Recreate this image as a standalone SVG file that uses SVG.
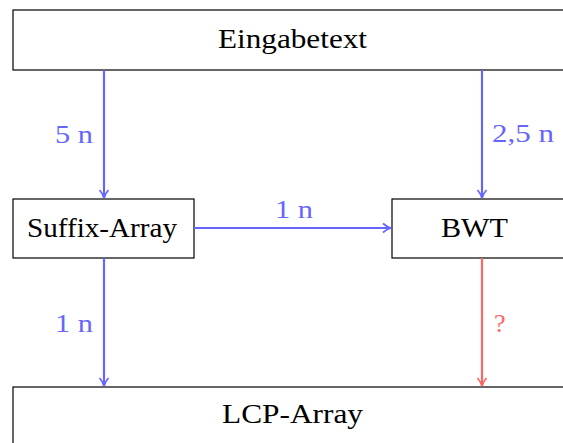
<svg xmlns="http://www.w3.org/2000/svg" width="563" height="443" viewBox="0 0 563 443">
<style>
.box{fill:#fff;stroke:#000;stroke-width:1.2}
.t{font-family:"Liberation Serif","DejaVu Serif",serif;font-size:28px;fill:#000}
.lb{font-family:"Liberation Serif","DejaVu Serif",serif;font-size:26px;fill:#6666ff}
.lr{font-family:"Liberation Serif","DejaVu Serif",serif;font-size:26px;fill:#ff6666}
.cb{stroke:#6666ff;stroke-width:2.2;fill:none}
.cr{stroke:#ff6666;stroke-width:2.2;fill:none}
</style>
<defs>
<marker id="ab" viewBox="0 0 12 12" refX="11" refY="6" markerWidth="12" markerHeight="12" markerUnits="userSpaceOnUse" orient="auto">
<path d="M3,1.5 Q7,5 11,6 Q7,7 3,10.5" fill="none" stroke="#6666ff" stroke-width="1.7"/>
</marker>
<marker id="ar" viewBox="0 0 12 12" refX="11" refY="6" markerWidth="12" markerHeight="12" markerUnits="userSpaceOnUse" orient="auto">
<path d="M3,1.5 Q7,5 11,6 Q7,7 3,10.5" fill="none" stroke="#ff6666" stroke-width="1.7"/>
</marker>
</defs>
<g id="eingabetext">
<rect class="box" x="13" y="10" width="580" height="60"/>
<text class="t" x="218" y="48" textLength="149" lengthAdjust="spacingAndGlyphs">Eingabetext</text>
</g>
<g id="suffix-array">
<rect class="box" x="13" y="199" width="181" height="59"/>
<text class="t" x="27" y="237" textLength="150" lengthAdjust="spacingAndGlyphs">Suffix-Array</text>
</g>
<g id="bwt">
<rect class="box" x="392" y="199" width="200" height="59"/>
<text class="t" x="441" y="237" textLength="67" lengthAdjust="spacingAndGlyphs">BWT</text>
</g>
<g id="lcp-array">
<rect class="box" x="13" y="387" width="580" height="70"/>
<text class="t" x="222" y="423" textLength="141" lengthAdjust="spacingAndGlyphs">LCP-Array</text>
</g>
<g id="connectors">
<line class="cb" x1="104" y1="70" x2="104" y2="198" marker-end="url(#ab)"/>
<line class="cb" x1="482" y1="70" x2="482" y2="198" marker-end="url(#ab)"/>
<line class="cb" x1="194" y1="228" x2="391" y2="228" marker-end="url(#ab)"/>
<line class="cb" x1="104" y1="258" x2="104" y2="386" marker-end="url(#ab)"/>
<line class="cr" x1="482" y1="258" x2="482" y2="386" marker-end="url(#ar)"/>
<text class="lb" x="55" y="143" textLength="38" lengthAdjust="spacingAndGlyphs">5 n</text>
<text class="lb" x="492" y="142" textLength="62" lengthAdjust="spacingAndGlyphs">2,5 n</text>
<text class="lb" x="275" y="218" textLength="38" lengthAdjust="spacingAndGlyphs">1 n</text>
<text class="lb" x="55" y="332" textLength="38" lengthAdjust="spacingAndGlyphs">1 n</text>
<text class="lr" x="494" y="332">?</text>
</g>
</svg>
